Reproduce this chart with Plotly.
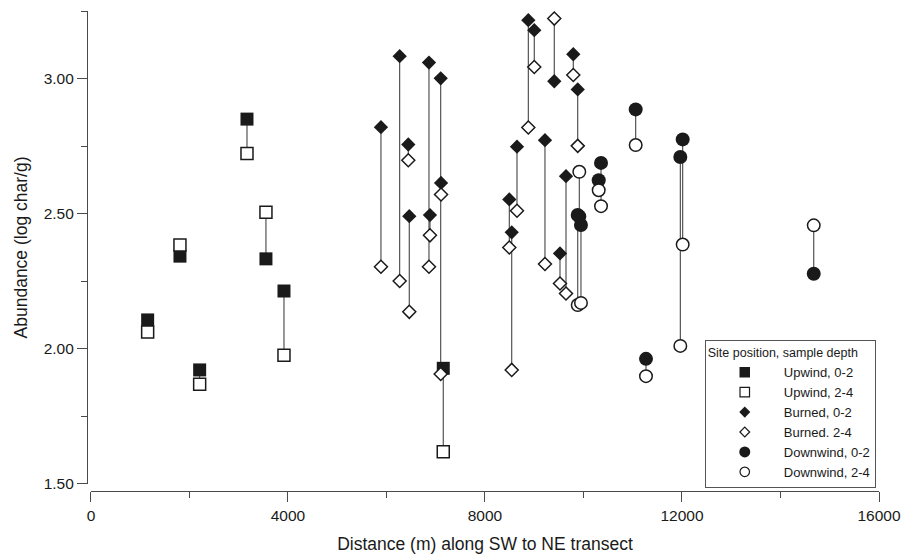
import plotly.graph_objects as go

# ---- data (distance in m, abundance in log char/g) ----
upwind_x = [1151, 1807, 2207, 3168, 3553, 3919, 7153]
upwind_0_2 = [2.107, 2.343, 1.922, 2.850, 2.333, 2.214, 1.928]
upwind_2_4 = [2.062, 2.384, 1.869, 2.723, 2.505, 1.976, 1.619]

burned_x = [5888, 6268, 6443, 6463, 6863, 6883, 7101, 7108, 8494, 8543,
            8650, 8880, 9001, 9218, 9407, 9523, 9645, 9793, 9883]
burned_0_2 = [2.820, 3.083, 2.756, 2.491, 3.059, 2.495, 3.001, 2.614, 2.553, 2.431,
              2.748, 3.216, 3.179, 2.772, 2.990, 2.353, 2.639, 3.090, 2.960]
burned_2_4 = [2.304, 2.251, 2.698, 2.137, 2.304, 2.420, 1.907, 2.571, 2.375, 1.922,
              2.511, 2.819, 3.043, 2.314, 3.222, 2.242, 2.205, 3.013, 2.751]

downwind_x = [9883, 9915, 9949, 10309, 10356, 11060, 11269, 11966, 12014, 14675]
downwind_0_2 = [2.495, 2.490, 2.458, 2.624, 2.688, 2.886, 1.963, 2.710, 2.775, 2.278]
downwind_2_4 = [2.162, 2.655, 2.170, 2.587, 2.528, 2.754, 1.899, 2.011, 2.386, 2.457]

x_ticks = [0, 4000, 8000, 12000, 16000]
y_ticks = [1.50, 2.00, 2.50, 3.00]
y_tick_labels = ["1.50", "2.00", "2.50", "3.00"]

FONT = "Liberation Sans, Arial, sans-serif"
INK = "#1a1a1a"
AXIS = "#4a4a4a"

fig = go.Figure()

# connecting lines between depths at each site
for xs, a, b in [(upwind_x, upwind_0_2, upwind_2_4),
                 (burned_x, burned_0_2, burned_2_4),
                 (downwind_x, downwind_0_2, downwind_2_4)]:
    lx, ly = [], []
    for xi, ai, bi in zip(xs, a, b):
        lx += [xi, xi, None]
        ly += [ai, bi, None]
    fig.add_trace(go.Scatter(x=lx, y=ly, mode="lines", showlegend=False,
                             hoverinfo="skip",
                             line=dict(color="#444444", width=1.1)))

def marker_style(symbol, size, filled, lw=1.5):
    if filled:
        return dict(symbol=symbol, size=size, color=INK,
                    line=dict(color=INK, width=0))
    return dict(symbol=symbol, size=size, color="white",
                line=dict(color=INK, width=lw))

series = [
    ("Upwind, 0-2", upwind_x, upwind_0_2, "square", 13, 10.5, True),
    ("Upwind, 2-4", upwind_x, upwind_2_4, "square", 12, 9.5, False),
    ("Burned, 0-2", burned_x, burned_0_2, "diamond", 11, 8.5, True),
    ("Burned. 2-4", burned_x, burned_2_4, "diamond", 10, 7.5, False),
    ("Downwind, 0-2", downwind_x, downwind_0_2, "circle", 14, 11, True),
    ("Downwind, 2-4", downwind_x, downwind_2_4, "circle", 12.5, 9.5, False),
]

for name, xs, ys, sym, size, lsize, filled in series:
    fig.add_trace(go.Scatter(x=xs, y=ys, mode="markers", name=name,
                             showlegend=False,
                             marker=marker_style(sym, size, filled)))
for name, xs, ys, sym, size, lsize, filled in series:
    fig.add_trace(go.Scatter(x=[None], y=[None], mode="markers", name=name,
                             showlegend=True, hoverinfo="skip",
                             marker=marker_style(sym, lsize, filled, 1.2)))

fig.update_layout(
    width=906, height=559,
    margin=dict(l=87, r=27, t=11, b=68, autoexpand=False),
    paper_bgcolor="white", plot_bgcolor="white",
    font=dict(family=FONT, color=INK, size=15.5),
    xaxis=dict(
        range=[0, 16000], domain=[0.005, 1], anchor="free", position=0,
        automargin=False,
        tickvals=x_ticks, ticktext=[str(v) for v in x_ticks],
        ticks="outside", ticklen=10, tickwidth=1.2, tickcolor=AXIS,
        showline=True, linecolor=AXIS, linewidth=1.2,
        showgrid=False, zeroline=False,
        minor=dict(dtick=2000, tick0=0, ticks="outside", ticklen=6,
                   tickwidth=1.2, tickcolor=AXIS, showgrid=False),
        tickfont=dict(size=15.5, family=FONT, color=INK),
        title=dict(text="Distance (m) along SW to NE transect",
                   font=dict(size=17.5, family=FONT, color=INK), standoff=15),
    ),
    yaxis=dict(
        range=[1.5, 3.25], domain=[0.0146, 1], anchor="free", position=0,
        automargin=False,
        tickvals=y_ticks, ticktext=y_tick_labels,
        ticks="outside", ticklen=10, tickwidth=1.2, tickcolor=AXIS,
        showline=True, linecolor=AXIS, linewidth=1.2,
        showgrid=False, zeroline=False,
        minor=dict(dtick=0.25, tick0=1.5, ticks="outside", ticklen=6,
                   tickwidth=1.2, tickcolor=AXIS, showgrid=False),
        tickfont=dict(size=15.5, family=FONT, color=INK),
        title=dict(text="Abundance (log char/g)",
                   font=dict(size=17.5, family=FONT, color=INK), standoff=10),
    ),
    legend=dict(
        x=0.780, y=0.006, xanchor="left", yanchor="bottom",
        bgcolor="white", bordercolor="#555555", borderwidth=1,
        font=dict(size=13, family=FONT, color=INK),
        itemwidth=68, tracegroupgap=0,
        title=dict(text="Site position, sample depth",
                   font=dict(size=12.5, family=FONT, color=INK)),
    ),
    showlegend=True,
)

fig.write_html(
    "out.html",
    config={"displayModeBar": False},
    post_script="document.body.style.margin='0';document.body.style.overflow='hidden';",
)
